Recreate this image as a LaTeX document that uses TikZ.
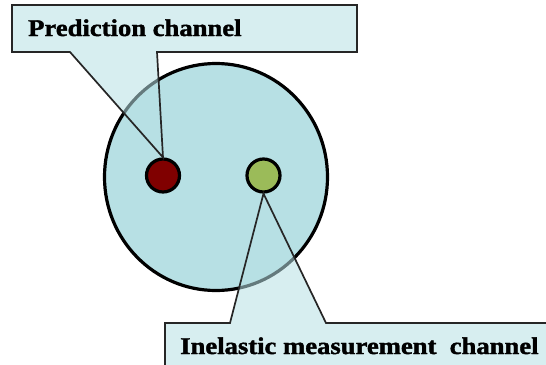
\documentclass[tikz,border=0pt]{standalone}
\usepackage{fontspec}
\setmainfont{Liberation Serif}
\newfontfamily\tagfont{Liberation Serif}[FakeStretch=1.11, FakeBold=1.6]
\usetikzlibrary{positioning,calc}
\definecolor{discblue}{RGB}{183,224,228}
\definecolor{predred}{RGB}{128,0,0}
\definecolor{inelgreen}{RGB}{155,187,89}

\begin{document}
\begin{tikzpicture}[
        x=1pt, y=-1pt,
        channel/.style={circle, draw=black, line width=3.2pt, minimum size=33pt, inner sep=0pt},
        callout/.style={fill=discblue, fill opacity=0.55, draw=black!85, line width=1.7pt, line join=miter},
        tagtext/.style={font=\tagfont\bfseries\fontsize{24}{24}\selectfont, anchor=base west, inner sep=0pt}
    ]
        \useasboundingbox (0,0) rectangle (546,364);
        \clip (0,0) rectangle (546,364);

        % Disc
        \draw[fill=discblue, line width=3.2pt] (216,177) ellipse [x radius=111.5, y radius=113.5];

        % Channels
        \node[channel, fill=predred] (pred) at (163,175.5) {};
        \node[channel, fill=inelgreen] (inel) at (263.5,175.5) {};

        % Callouts
        \draw[callout] (12,5) -- (357,5) -- (357,52) -- (157,52) -- (pred.north)
            -- (70,52) -- (12,52) -- cycle;
        \draw[callout] (165,323) -- (230,323) -- (inel.south) -- (326,323)
            -- (560,323) -- (560,380) -- (165,380) -- cycle;

        % Labels
        \node[tagtext] (predtag) at (28,36) {Prediction channel};
        \node[tagtext] (ineltag) at (180,354) {Inelastic measurement\ \ channel};
    \end{tikzpicture}
\end{document}
